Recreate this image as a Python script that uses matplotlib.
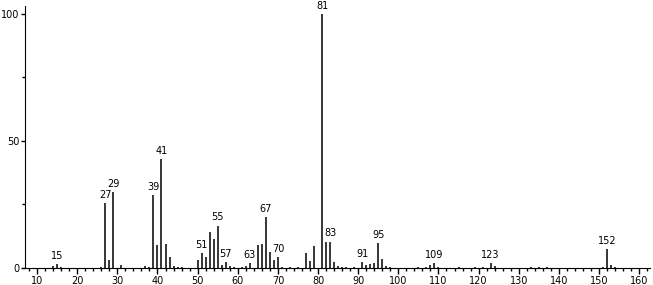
import matplotlib
matplotlib.use("Agg")
import matplotlib.pyplot as plt
from matplotlib.ticker import MultipleLocator

# m/z and relative intensity
mz = [14, 15, 16, 26, 27, 28, 29, 31, 37, 38, 39, 40, 41, 42, 43, 44, 45, 46,
      50, 51, 52, 53, 54, 55, 56, 57, 58, 59, 61, 62, 63, 65, 66, 67, 68, 69, 70,
      71, 73, 75, 77, 78, 79, 81, 82, 83, 84, 85, 86, 87, 89, 91, 92, 93, 94,
      95, 96, 97, 98, 105, 107, 108, 109, 110, 115, 119, 121, 123, 124, 133,
      135, 137, 151, 152, 153, 154]
intensity = [0.6, 1.5, 0.4, 0.4, 25.5, 3.0, 30.0, 1.2, 0.8, 0.5, 28.7, 9.0,
             43.0, 9.5, 4.5, 0.6, 0.4, 0.4, 3.0, 6.0, 4.5, 14.0, 11.5, 16.7, 1.2,
             2.5, 0.6, 0.4, 0.5, 0.6, 2.0, 9.0, 9.3, 20.0, 6.4, 3.2, 4.5, 0.5,
             0.4, 0.4, 6.0, 2.8, 8.8, 100.0, 10.4, 10.4, 2.5, 0.6, 0.5, 0.4, 0.4,
             2.4, 1.0, 1.5, 2.0, 10.0, 3.6, 0.8, 0.4, 0.4, 0.5, 1.0, 1.8, 0.5,
             0.4, 0.5, 0.5, 2.0, 0.6, 0.4, 0.4, 0.4, 0.5, 7.5, 1.2, 0.4]

labelled = [15, 27, 29, 39, 41, 51, 55, 57, 63, 67, 70, 81, 83, 91, 95, 109, 123, 152]

fig = plt.figure(figsize=(6.53, 2.85), dpi=100)
ax = fig.add_axes([22 / 653, 17 / 285, 628 / 653, 262 / 285])

ax.vlines(mz, 0, intensity, color="black", linewidth=1.1)
for m in labelled:
    h = intensity[mz.index(m)]
    ax.text(m, h + 1.2, str(m), ha="center", va="bottom", fontsize=7)

ax.set_xlim(6.25, 162.7)
ax.set_ylim(0, 103)
ax.spines["top"].set_visible(False)
ax.spines["right"].set_visible(False)
ax.spines["left"].set_position(("data", 7))
ax.spines["left"].set_bounds(0, 103)

ax.xaxis.set_major_locator(MultipleLocator(10))
ax.xaxis.set_minor_locator(MultipleLocator(2))
ax.yaxis.set_major_locator(MultipleLocator(50))
ax.yaxis.set_minor_locator(MultipleLocator(25))
ax.tick_params(axis="x", which="major", labelsize=7, length=4, width=1, pad=2)
ax.tick_params(axis="y", which="major", labelsize=7, length=3, width=1, pad=1)
ax.tick_params(axis="both", which="minor", length=2, width=1)

fig.savefig("out.png", dpi=100)
